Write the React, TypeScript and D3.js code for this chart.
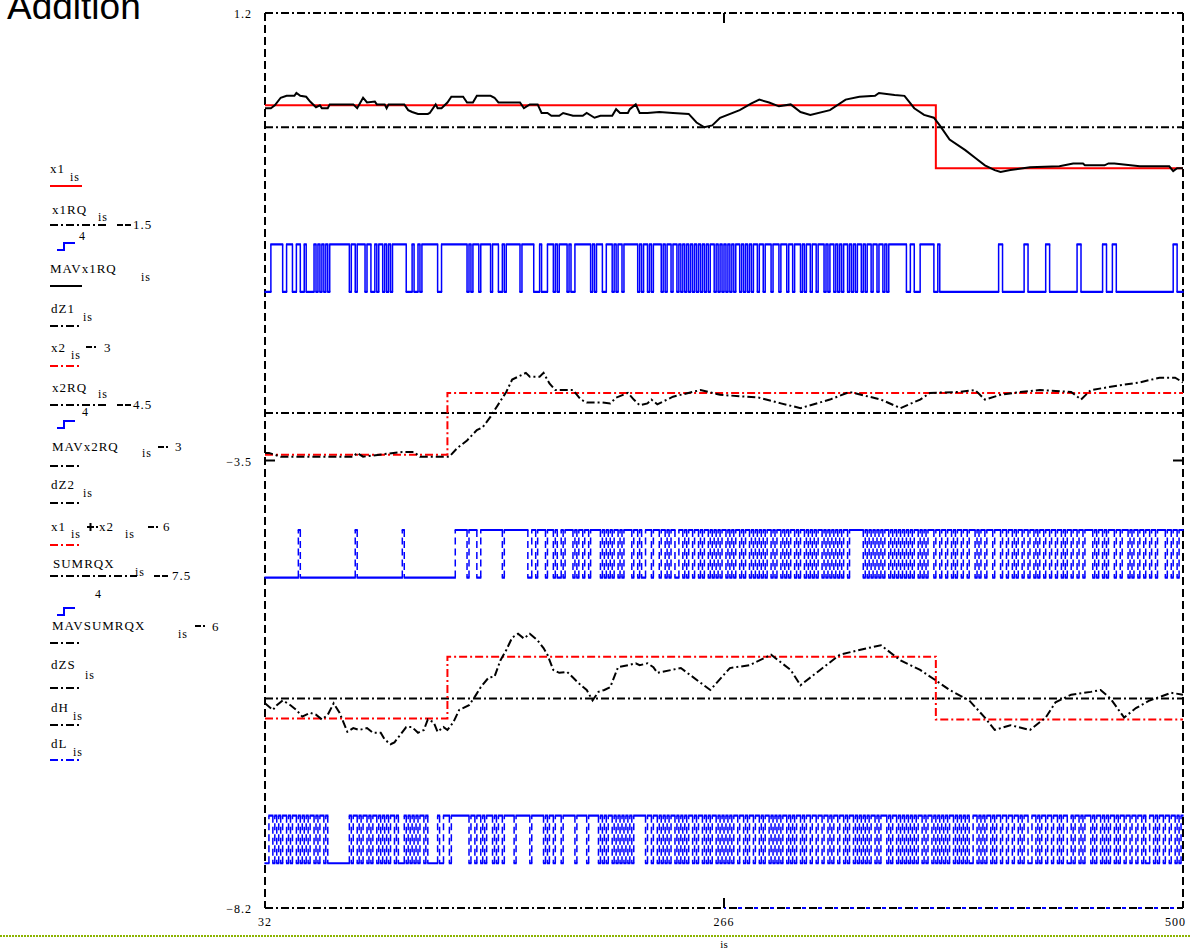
import React from 'react';
import * as d3 from 'd3';

// ---------- DATA ----------
const isDomain: [number, number] = [32, 500];
const yDomain: [number, number] = [-8.2, 1.2];
const xTickValues = [32, 266, 500];
const yTickValues = [1.2, -3.5, -8.2];

// piecewise constant inputs: [start is, value]
const x1Steps: [number, number][] = [[32, 0.23], [374, -0.43]];
const x2Steps: [number, number][] = [[32, -0.44], [125, 0.21]];

// quantizer output levels
const rqLo = -0.23;
const rqHi = 0.27;

// quantized series, one bit per sample (is = 32..500), groups of 10
const x1RQBits = `0001111110 0111001100 1000010101 0101111111 1110110111 1011001011 0101011111 1100010010 1111111100 1111111111
1110101110 1111101110 0101111111 0111111000 1000111010 1111010011 1111110101 1100111010 1101111111 0101101011
1101011011 0101010101 0101010110 1010101010 1101010101 1011011101 1101110110 1110101101 1011101011 0101011010
1011010110 1101101011 1111111001 1000111111 1001000000 0000000000 0000000000 0000110000 0000000110 0000000011
0000000000 0000110000 0000000110 0011000000 0000000000 0000000000 000110000`;

const x2RQBits = `0000000000 0000000100 0000000000 0000000000 0000001000 0000000000 0000000000 1000000000 0000000000 0000000111
1110111100 1111111111 1011111111 1111001101 1110111010 0101111010 1101101111 1010101011 0101111011 0100111011
1011010110 0110101101 1010110101 0101101010 1101011010 1010101101 0110101011 0101101010 1011010101 0101011011
1111101010 1010101101 0101010101 0110101011 1011011011 0101101101 1101011011 1011101101 1010110110 1101011011
0110110101 1011011011 1101011010 1110110111 0101101101 1011011110 110110111`;

const sumRQXBits = `0011010101 1010110101 0101101011 0100000000 0001011010 1101011010 1010110100 0101010101 1010000010 0111011111
1111011011 0101110101 1011111011 1111101111 1101011011 1011111101 1111011111 0101011010 1010101011 1111011011
0101010110 1010101101 0110101011 0101010101 1011010110 1101011010 1010110101 0110101101 1011011010 1101101011
0101010101 1010111010 1101010101 0101101011 0101010101 1010101010 0110101011 0101101101 1011010110 0110101101
1011010110 0101101011 1010110101 0110101101 1011011010 0110101101 101101011`;

// moving averages: [is, value]
const mavX1RQ: [number, number][] = [
  [32, 0.20], [35, 0.20], [37, 0.23], [40, 0.31], [43, 0.33], [47, 0.33], [48, 0.36], [50, 0.33], [53, 0.32], [55, 0.27],
  [58, 0.21], [60, 0.23], [61, 0.20], [64, 0.20], [65, 0.24], [77, 0.24], [79, 0.20], [82, 0.31], [84, 0.26], [88, 0.27],
  [89, 0.24], [93, 0.24], [94, 0.20], [95, 0.24], [103, 0.24], [105, 0.18], [107, 0.16], [110, 0.14], [115, 0.14], [116, 0.15],
  [119, 0.24], [120, 0.20], [122, 0.20], [125, 0.26], [127, 0.32], [133, 0.32], [135, 0.26], [138, 0.26], [140, 0.33], [147, 0.33],
  [149, 0.31], [151, 0.26], [162, 0.26], [164, 0.20], [167, 0.24], [171, 0.24], [173, 0.15], [176, 0.15], [178, 0.12], [182, 0.12],
  [184, 0.15], [189, 0.12], [194, 0.12], [196, 0.15], [200, 0.10], [203, 0.12], [209, 0.12], [211, 0.19], [213, 0.15], [217, 0.15],
  [218, 0.19], [221, 0.24], [223, 0.15], [227, 0.15], [233, 0.16], [240, 0.15], [248, 0.14], [252, 0.05], [256, 0.00], [260, 0.02],
  [264, 0.10], [274, 0.18], [280, 0.25], [284, 0.29], [289, 0.26], [294, 0.22], [300, 0.24], [305, 0.16], [310, 0.13], [320, 0.18],
  [328, 0.29], [335, 0.32], [343, 0.33], [345, 0.36], [353, 0.34], [358, 0.33], [363, 0.20], [368, 0.13], [373, 0.10], [376, 0.02],
  [381, -0.13], [389, -0.24], [394, -0.32], [399, -0.40], [404, -0.45], [407, -0.47], [412, -0.45], [422, -0.42], [437, -0.41], [444, -0.38],
  [449, -0.38], [450, -0.40], [460, -0.40], [462, -0.38], [465, -0.38], [478, -0.41], [488, -0.41], [493, -0.41], [495, -0.46], [497, -0.43],
  [500, -0.43],
];

const mavX2RQ: [number, number][] = [
  [32, -0.42], [34, -0.42], [40, -0.46], [77, -0.46], [79, -0.42], [82, -0.46], [102, -0.41], [108, -0.41], [111, -0.46], [126, -0.46],
  [130, -0.37], [135, -0.29], [140, -0.18], [143, -0.15], [147, -0.04], [150, 0.06], [155, 0.22], [158, 0.35], [161, 0.38], [165, 0.42],
  [167, 0.38], [172, 0.38], [174, 0.42], [177, 0.31], [180, 0.24], [189, 0.24], [193, 0.14], [196, 0.11], [204, 0.11], [208, 0.10],
  [211, 0.16], [217, 0.21], [220, 0.14], [223, 0.08], [227, 0.10], [229, 0.14], [232, 0.09], [240, 0.17], [254, 0.24], [264, 0.19],
  [284, 0.16], [295, 0.10], [305, 0.05], [320, 0.14], [330, 0.22], [346, 0.14], [356, 0.05], [366, 0.14], [371, 0.21], [386, 0.22],
  [394, 0.24], [399, 0.14], [407, 0.19], [417, 0.22], [427, 0.24], [443, 0.22], [448, 0.14], [453, 0.24], [468, 0.29], [478, 0.32],
  [488, 0.37], [496, 0.37], [500, 0.32],
];

const mavSUMRQX: [number, number][] = [
  [32, -0.05], [36, -0.12], [38, -0.07], [41, -0.02], [45, -0.07], [48, -0.12], [51, -0.19], [55, -0.15], [58, -0.17], [61, -0.22],
  [64, -0.17], [67, -0.05], [70, -0.15], [74, -0.35], [77, -0.31], [80, -0.33], [84, -0.31], [87, -0.36], [91, -0.36], [93, -0.43],
  [96, -0.48], [98, -0.46], [101, -0.38], [104, -0.30], [107, -0.30], [110, -0.36], [113, -0.33], [115, -0.22], [118, -0.25], [120, -0.35],
  [123, -0.30], [125, -0.33], [128, -0.25], [131, -0.12], [136, -0.07], [139, 0.02], [142, 0.12], [146, 0.22], [149, 0.23], [152, 0.40],
  [155, 0.51], [158, 0.64], [161, 0.68], [164, 0.63], [167, 0.68], [171, 0.61], [174, 0.53], [176, 0.46], [179, 0.30], [182, 0.27],
  [186, 0.28], [189, 0.22], [193, 0.14], [196, 0.09], [199, -0.02], [202, 0.07], [205, 0.09], [208, 0.12], [212, 0.33], [217, 0.35],
  [221, 0.37], [223, 0.35], [227, 0.37], [230, 0.33], [232, 0.27], [244, 0.32], [259, 0.09], [269, 0.32], [279, 0.35], [290, 0.46],
  [300, 0.30], [305, 0.14], [315, 0.30], [325, 0.46], [335, 0.51], [346, 0.56], [356, 0.40], [366, 0.30], [374, 0.19], [381, 0.09],
  [391, -0.02], [399, -0.20], [404, -0.33], [412, -0.28], [422, -0.33], [430, -0.20], [435, -0.04], [443, 0.04], [453, 0.07], [458, 0.09],
  [463, 0.00], [470, -0.20], [476, -0.10], [483, -0.02], [494, 0.06], [500, 0.04],
];

// constant reference traces
const dZ1 = 0;
const dZ2 = -3;
const dZS = -6;
const dH = 1.2;
const dL = -8.2;

// offsets used in the trace expressions
const offX1RQ = -1.5;
const offX2 = -3;
const offX2RQ = -4.5;
const offMAVX2 = -3;
const offSum = -6;
const offSumRQ = -7.5;
const offMAVSum = -6;

// ---------- HELPERS ----------
const isValues = d3.range(isDomain[0], isDomain[1] + 1);

function expandSteps(steps: [number, number][]): number[] {
  return isValues.map((i) => {
    let v = steps[0][1];
    for (const [s, val] of steps) if (i >= s) v = val;
    return v;
  });
}
function bitsToValues(bits: string): number[] {
  const b = bits.replace(/\s/g, '');
  return isValues.map((_, k) => (b[k] === '1' ? rqHi : rqLo));
}

const x1 = expandSteps(x1Steps);
const x2 = expandSteps(x2Steps);
const x1RQ = bitsToValues(x1RQBits);
const x2RQ = bitsToValues(x2RQBits);
const sumRQX = bitsToValues(sumRQXBits);

const L = 265, R = 1183, T = 13, B = 908;
const xs = d3.scaleLinear().domain(isDomain).range([L, R]);
const ys = d3.scaleLinear().domain(yDomain).range([B, T]);

const serif = "'Liberation Serif', 'Times New Roman', serif";
const DASHDOT = '8,3,2,3';
const BLUE = '#0000ff';

function stepPath(vals: number[], off: number): string {
  const line = d3.line<number>().x((_, k) => xs(isValues[k])).y((v) => ys(v + off)).curve(d3.curveStepAfter);
  return line(vals) || '';
}
function stepParts(vals: number[], off: number): { h: string; v: string } {
  const h = d3.path();
  const v = d3.path();
  let k = 0;
  while (k < vals.length) {
    let j = k;
    while (j + 1 < vals.length && vals[j + 1] === vals[k]) j++;
    const xEnd = j + 1 < vals.length ? xs(isValues[j + 1]) : xs(isValues[j]);
    h.moveTo(xs(isValues[k]) - 0.6, ys(vals[k] + off));
    h.lineTo(xEnd + 0.6, ys(vals[k] + off));
    if (j + 1 < vals.length) {
      v.moveTo(xEnd, ys(vals[k] + off));
      v.lineTo(xEnd, ys(vals[j + 1] + off));
    }
    k = j + 1;
  }
  return { h: h.toString(), v: v.toString() };
}
function linePath(pts: [number, number][], off: number): string {
  const line = d3.line<[number, number]>().x((d) => xs(d[0])).y((d) => ys(d[1] + off));
  return line(pts) || '';
}
function constPath(v: number, from = isDomain[0], to = isDomain[1]): string {
  return `M${xs(from)},${ys(v)}H${xs(to)}`;
}

// ---------- LEGEND PIECES ----------
const Txt = ({ x, y, s = 13, children }: any) => (
  <text x={x} y={y} fontSize={s} fontFamily={serif} letterSpacing={1} fill="#000">
    {children}
  </text>
);
const Sub = ({ x, y }: any) => <Txt x={x} y={y} s={12}>is</Txt>;
const Minus = ({ x, y, dot = true }: any) => (
  <g stroke="#000" strokeWidth={2}>
    <line x1={x} y1={y} x2={x + 6} y2={y} />
    {dot ? <line x1={x + 8} y1={y} x2={x + 10} y2={y} /> : <line x1={x + 8} y1={y} x2={x + 14} y2={y} />}
  </g>
);
const StepIcon = ({ x, y }: any) => (
  <path d={`M${x},${y + 7}H${x + 7}V${y}H${x + 18}`} stroke={BLUE} strokeWidth={2} fill="none" />
);
const Sample = ({ y, color = '#000', dash, w = 32 }: any) => (
  <line x1={50} y1={y} x2={50 + w} y2={y} stroke={color} strokeWidth={2} strokeDasharray={dash} />
);

export default function App() {
  const s1 = stepParts(x1RQ, offX1RQ);
  const s2 = stepParts(x2RQ, offX2RQ);
  const s3 = stepParts(sumRQX, offSumRQ);
  const sumX = x1.map((v, k) => v + x2[k]);

  return (
    <svg width={1191} height={950} style={{ position: 'absolute', left: 0, top: 0, background: '#fff' }}>
      {/* title */}
      <text x={7} y={19} fontSize={37} fontFamily="'Liberation Sans', Arial, sans-serif" fill="#000">Addition</text>

      {/* frame */}
      <path d={constPath(dH)} stroke="#000" strokeWidth={2} strokeDasharray={DASHDOT} fill="none" />
      <path d={constPath(dL)} stroke="#000" strokeWidth={2} strokeDasharray={DASHDOT} fill="none" />
      <path d={constPath(dL, 266, 500)} stroke={BLUE} strokeWidth={2} strokeDasharray="4,12" strokeDashoffset={2} fill="none" />
      <line x1={L} y1={T} x2={L} y2={B} stroke="#000" strokeWidth={2} strokeDasharray="8,4" />
      <line x1={R} y1={T} x2={R} y2={B} stroke="#000" strokeWidth={2} strokeDasharray="8,4" />
      {/* ticks */}
      <line x1={xs(266)} y1={T} x2={xs(266)} y2={T + 10} stroke="#000" strokeWidth={2} />
      <line x1={xs(266)} y1={B} x2={xs(266)} y2={B - 10} stroke="#000" strokeWidth={2} />
      <line x1={R} y1={ys(-3.5)} x2={R - 10} y2={ys(-3.5)} stroke="#000" strokeWidth={2} />
      <line x1={L} y1={ys(-3.5)} x2={L + 10} y2={ys(-3.5)} stroke="#000" strokeWidth={2} />

      {/* zero lines */}
      <path d={constPath(dZ1)} stroke="#000" strokeWidth={2} strokeDasharray={DASHDOT} fill="none" />
      <path d={constPath(dZ2)} stroke="#000" strokeWidth={2} strokeDasharray={DASHDOT} fill="none" />
      <path d={constPath(dZS)} stroke="#000" strokeWidth={2} strokeDasharray={DASHDOT} fill="none" />

      {/* group 1 */}
      <path d={stepPath(x1, 0)} stroke="#ff0000" strokeWidth={2} fill="none" />
      <path d={linePath(mavX1RQ, 0)} stroke="#000" strokeWidth={2} fill="none" />
      <path d={s1.h} stroke={BLUE} strokeWidth={2.2} fill="none" />
      <path d={s1.v} stroke={BLUE} strokeWidth={1.5} fill="none" />

      {/* group 2 */}
      <path d={stepPath(x2, offX2)} stroke="#ff0000" strokeWidth={2} strokeDasharray={DASHDOT} fill="none" />
      <path d={linePath(mavX2RQ, offMAVX2)} stroke="#000" strokeWidth={2} strokeDasharray={DASHDOT} fill="none" />
      <path d={s2.h} stroke={BLUE} strokeWidth={2.2} fill="none" />
      <path d={s2.v} stroke={BLUE} strokeWidth={1.5} strokeDasharray="7,4" fill="none" />

      {/* group 3 */}
      <path d={stepPath(sumX, offSum)} stroke="#ff0000" strokeWidth={2} strokeDasharray={DASHDOT} fill="none" />
      <path d={linePath(mavSUMRQX, offMAVSum)} stroke="#000" strokeWidth={2} strokeDasharray={DASHDOT} fill="none" />
      <path d={s3.h} stroke={BLUE} strokeWidth={2.2} fill="none" />
      <path d={s3.v} stroke={BLUE} strokeWidth={1.5} strokeDasharray="7,4" fill="none" />

      {/* axis labels */}
      {yTickValues.map((v) => (
        <text key={v} x={252} y={ys(v) + 5} textAnchor="end" fontSize={12} fontFamily={serif} letterSpacing={1}>
          {v < 0 ? '\u2212' + Math.abs(v).toFixed(1) : v.toFixed(1)}
        </text>
      ))}
      {xTickValues.map((v, k) => (
        <text key={v} x={k === 0 ? xs(v) - 7 : k === 2 ? xs(v) + 3 : xs(v)} y={926}
          textAnchor={k === 0 ? 'start' : k === 2 ? 'end' : 'middle'} fontSize={12} fontFamily={serif} letterSpacing={1}>
          {v}
        </text>
      ))}
      <line x1={0} y1={936} x2={1191} y2={936} stroke="#8cb400" strokeWidth={2} strokeDasharray="2,1" />
      <text x={xs(266)} y={948} textAnchor="middle" fontSize={11} fontFamily={serif}>is</text>

      {/* legend */}
      <Txt x={50} y={173}>x1</Txt><Sub x={70} y={181} />
      <Sample y={186} color="#ff0000" />

      <Txt x={52} y={214}>x1RQ</Txt><Sub x={98} y={221} />
      <Sample y={225} dash={DASHDOT} w={57} />
      <Minus x={117} y={225} dot={false} />
      <Txt x={133} y={229}>1.5</Txt>
      <StepIcon x={57} y={243} /><Txt x={79} y={240} s={12}>4</Txt>

      <Txt x={50} y={273}>MAVx1RQ</Txt><Sub x={141} y={281} />
      <Sample y={286} />

      <Txt x={51} y={313}>dZ1</Txt><Sub x={83} y={321} />
      <Sample y={326} dash={DASHDOT} w={30} />

      <Txt x={51} y={352}>x2</Txt><Sub x={71} y={359} />
      <Minus x={86} y={347} /><Txt x={104} y={352}>3</Txt>
      <Sample y={366} color="#ff0000" dash={DASHDOT} w={30} />

      <Txt x={52} y={392}>x2RQ</Txt><Sub x={98} y={398} />
      <Sample y={405} dash={DASHDOT} w={57} />
      <Minus x={117} y={405} dot={false} />
      <Txt x={133} y={409}>4.5</Txt>
      <StepIcon x={57} y={421} /><Txt x={82} y={416} s={12}>4</Txt>

      <Txt x={52} y={451}>MAVx2RQ</Txt><Sub x={142} y={457} />
      <Minus x={158} y={447} /><Txt x={175} y={451}>3</Txt>
      <Sample y={466} dash={DASHDOT} w={30} />

      <Txt x={51} y={489}>dZ2</Txt><Sub x={83} y={497} />
      <Sample y={503} dash={DASHDOT} w={30} />

      <Txt x={51} y={531}>x1</Txt><Sub x={71} y={538} />
      <g stroke="#000" strokeWidth={2}>
        <line x1={87} y1={527} x2={94} y2={527} /><line x1={90.5} y1={523} x2={90.5} y2={531} /><line x1={96} y1={527} x2={98} y2={527} />
      </g>
      <Txt x={99} y={531}>x2</Txt><Sub x={125} y={538} />
      <Minus x={148} y={527} /><Txt x={163} y={531}>6</Txt>
      <Sample y={545} color="#ff0000" dash={DASHDOT} w={30} />

      <Txt x={53} y={568}>SUMRQX</Txt><Sub x={135} y={576} />
      <Sample y={576} dash={DASHDOT} w={87} />
      <Minus x={154} y={576} dot={false} />
      <Txt x={172} y={580}>7.5</Txt>
      <Txt x={95} y={598} s={12}>4</Txt>
      <StepIcon x={57} y={608} />

      <Txt x={52} y={630}>MAVSUMRQX</Txt><Sub x={178} y={638} />
      <Minus x={195} y={626} /><Txt x={212} y={631}>6</Txt>
      <Sample y={643} dash={DASHDOT} w={30} />

      <Txt x={51} y={669}>dZS</Txt><Sub x={85} y={679} />
      <Sample y={688} dash={DASHDOT} w={30} />

      <Txt x={51} y={712}>dH</Txt><Sub x={73} y={720} />
      <Sample y={725} dash={DASHDOT} w={30} />

      <Txt x={51} y={748}>dL</Txt><Sub x={73} y={756} />
      <Sample y={760} color={BLUE} dash={DASHDOT} w={30} />
    </svg>
  );
}
